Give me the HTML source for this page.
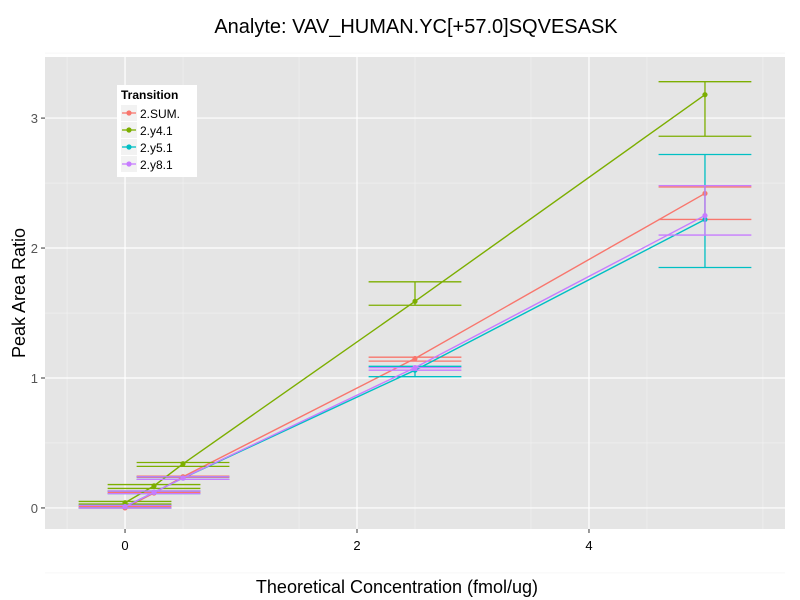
<!DOCTYPE html>
<html><head><meta charset="utf-8"><style>
body{margin:0;background:#fff;}
svg{display:block;font-family:"Liberation Sans",sans-serif;}
</style></head><body>
<svg id="chart" width="800" height="600">
<text x="416" y="33" font-size="20" text-anchor="middle" fill="#000">Analyte: VAV_HUMAN.YC[+57.0]SQVESASK</text>
<rect x="45" y="57" width="740" height="472" fill="#E5E5E5"/>
<g id="grid"></g><g id="marks"></g><g id="axes"></g>
<text x="397" y="593" font-size="18" text-anchor="middle">Theoretical Concentration (fmol/ug)</text>
<text transform="translate(25,293) rotate(-90)" font-size="18" text-anchor="middle">Peak Area Ratio</text>
<g>
<rect x="117" y="85" width="80" height="92" fill="#fff"/>
<text x="121" y="99" font-size="12" font-weight="bold">Transition</text>
<g id="legend-items"></g>
</g>
</svg>
<script>
const series = ["2.SUM.","2.y4.1","2.y5.1","2.y8.1"];
const colors = ["#F8766D","#7CAE00","#00BFC4","#C77CFF"];
const xValues = [0,0.25,0.5,2.5,5];
const sumVals = [0.0,0.115,0.24,1.15,2.42];
const sumLo = [0.0,0.12,0.235,1.13,2.22];
const sumHi = [0.01,0.13,0.245,1.16,2.47];
const y41Vals = [0.04,0.17,0.34,1.59,3.18];
const y41Lo = [0.03,0.15,0.32,1.56,2.86];
const y41Hi = [0.05,0.18,0.35,1.74,3.28];
const y51Vals = [0.01,0.12,0.23,1.06,2.22];
const y51Lo = [0.0,0.11,0.22,1.01,1.85];
const y51Hi = [0.02,0.13,0.24,1.09,2.72];
const y81Vals = [0.01,0.12,0.23,1.08,2.25];
const y81Lo = [0.0,0.11,0.22,1.06,2.10];
const y81Hi = [0.02,0.13,0.24,1.08,2.48];
const xTicks = [0,2,4];
const yTicks = [0,1,2,3];
const errHalf = 0.4;

const NS="http://www.w3.org/2000/svg";
const X0=45,X1=785,Y0=529,Y1=57, xmin=-0.69,xmax=5.69,ymin=-0.162,ymax=3.47;
const sx=v=>X0+(v-xmin)/(xmax-xmin)*(X1-X0);
const sy=v=>Y0-(v-ymin)/(ymax-ymin)*(Y0-Y1);
function mk(tag,attrs,parent){const e=document.createElementNS(NS,tag);for(const k in attrs)e.setAttribute(k,attrs[k]);parent.appendChild(e);return e;}
const grid=document.getElementById('grid'),marks=document.getElementById('marks'),axes=document.getElementById('axes');
for(let v=-0.5;v<=5.5;v+=1){const e=mk('line',{x1:sx(v),x2:sx(v),y1:Y1,y2:Y0,stroke:'#F2F2F2','stroke-width':0.6},grid);

}
for(let v=-0.5;v<=3.5;v+=1){const e=mk('line',{x1:X0,x2:X1,y1:sy(v),y2:sy(v),stroke:'#F2F2F2','stroke-width':0.6},grid);

}
xTicks.forEach(v=>{const e=mk('line',{x1:sx(v),x2:sx(v),y1:Y1,y2:Y0,stroke:'#fff','stroke-width':1.2},grid);


const t=mk('line',{x1:sx(v),x2:sx(v),y1:Y0,y2:Y0+4,stroke:'#333'},axes);


const l=mk('text',{x:sx(v),y:Y0+21,'font-size':13,'text-anchor':'middle',fill:'#000'},axes);l.textContent=v;

});
yTicks.forEach(v=>{const e=mk('line',{x1:X0,x2:X1,y1:sy(v),y2:sy(v),stroke:'#fff','stroke-width':1.2},grid);


const t=mk('line',{x1:X0-4,x2:X0,y1:sy(v),y2:sy(v),stroke:'#333'},axes);


const l=mk('text',{x:X0-7,y:sy(v)+5,'font-size':13,'text-anchor':'end',fill:'#555'},axes);l.textContent=v;

});
const vals=[sumVals,y41Vals,y51Vals,y81Vals],los=[sumLo,y41Lo,y51Lo,y81Lo],his=[sumHi,y41Hi,y51Hi,y81Hi];
series.forEach((s,i)=>{const g=mk('g',{},marks);


const c=colors[i];
xValues.forEach((x,j)=>{
 [los[i][j],his[i][j]].forEach(v=>{const e=mk('line',{x1:sx(x-errHalf),x2:sx(x+errHalf),y1:sy(v),y2:sy(v),stroke:c,'stroke-width':1.3},g);
 
 });
 const e=mk('line',{x1:sx(x),x2:sx(x),y1:sy(los[i][j]),y2:sy(his[i][j]),stroke:c,'stroke-width':1.3},g);
 
 });
const p=mk('polyline',{points:xValues.map((x,j)=>sx(x)+','+sy(vals[i][j])).join(' '),fill:'none',stroke:c,'stroke-width':1.4},g);


xValues.forEach((x,j)=>{const d=mk('circle',{cx:sx(x),cy:sy(vals[i][j]),r:2.6,fill:c},g);

});
const lg=document.getElementById('legend-items'),y=113+i*17;
const it=mk('g',{},lg);


mk('rect',{x:121,y:y-8,width:16,height:16,fill:'#F2F2F2'},it);
mk('line',{x1:122,x2:136,y1:y,y2:y,stroke:c,'stroke-width':1.3},it);
mk('circle',{cx:129,cy:y,r:2.6,fill:c},it);
const t=mk('text',{x:140,y:y+5,'font-size':12},it);t.textContent=s;});
</script>
</body></html>
